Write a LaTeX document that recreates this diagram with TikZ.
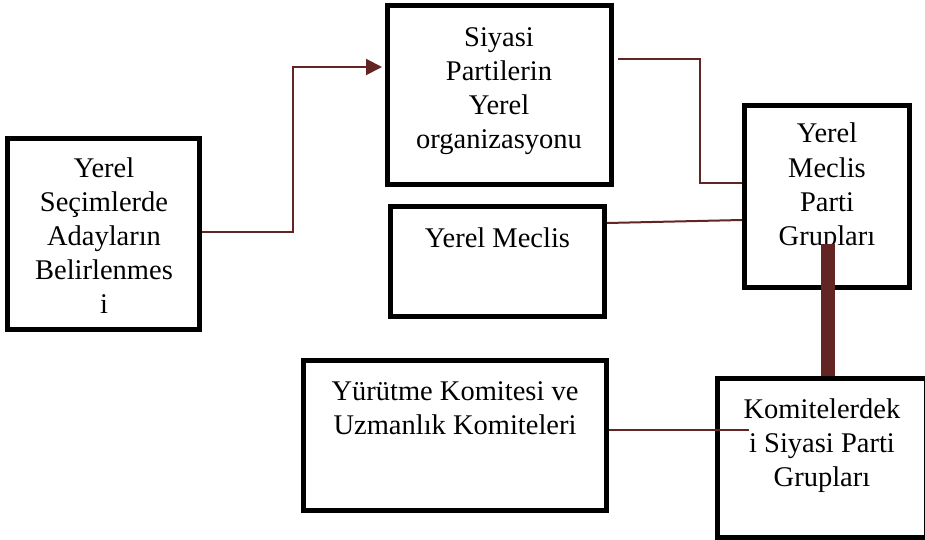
\documentclass[tikz,border=0pt]{standalone}
\usepackage{fontspec}
\setmainfont{Liberation Serif}
\usetikzlibrary{arrows.meta}
\definecolor{connred}{RGB}{99,37,35}
\begin{document}
\begin{tikzpicture}[x=1pt,y=-1pt,
  box/.style={draw=black,line width=5pt,rectangle,inner sep=0pt},
  lbl/.style={anchor=base,inner sep=0pt,font=\fontsize{28.5}{34}\selectfont},
  thinconn/.style={draw=connred,line width=2pt},
  thickconn/.style={draw=connred,line width=13.5pt},
]
\useasboundingbox (0,0) rectangle (925,540);
% boxes
\node[box,minimum width=192pt,minimum height=191pt] (A) at (103.5,234) {};
\node[box,minimum width=224pt,minimum height=179pt] (B) at (499.5,95) {};
\node[box,minimum width=214pt,minimum height=110pt] (C) at (497.5,261.5) {};
\node[box,minimum width=165pt,minimum height=182pt] (D) at (827,196.5) {};
\node[box,minimum width=303pt,minimum height=150pt] (E) at (455,435.5) {};
\node[box,minimum width=209pt,minimum height=159pt] (F) at (822,458) {};
% texts
\node[lbl] (tA) at (104,177) {\begin{tabular}[t]{@{}c@{}}Yerel\\Seçimlerde\\Adayların\\Belirlenmes\\i\end{tabular}};
\node[lbl] (tB) at (499,47) {\begin{tabular}[t]{@{}c@{}}Siyasi\\Partilerin\\Yerel\\organizasyonu\end{tabular}};
\node[lbl] (tC) at (497.5,247) {Yerel Meclis};
\node[lbl] (tD) at (827,143) {\begin{tabular}[t]{@{}c@{}}Yerel\\Meclis\\Parti\\Grupları\end{tabular}};
\node[lbl] (tE) at (455,400) {\begin{tabular}[t]{@{}c@{}}Yürütme Komitesi ve\\Uzmanlık Komiteleri\end{tabular}};
\node[lbl] (tF) at (822,418) {\begin{tabular}[t]{@{}c@{}}Komitelerdek\\i Siyasi Parti\\Grupları\end{tabular}};
% connectors
\draw[thinconn,-{Triangle[length=16pt,width=16pt]},shorten >=3pt]
  ([yshift=2pt]A.east) -- ++(91,0) |- ([yshift=28pt]B.west);
\draw[thinconn] ([xshift=4pt,yshift=36pt]B.east) -- ++(82,0) |- ([yshift=13.5pt]D.west);
\draw[thinconn] ([yshift=38.5pt]C.east) -- ([yshift=-23.5pt]D.west);
\draw[thinconn] ([yshift=5.5pt]E.east) -- ([xshift=34pt,yshift=28pt]F.west);
\draw[thickconn] ([xshift=1pt,yshift=-47.5pt]D.center) -- ([xshift=1pt]D.center |- F.north);
\end{tikzpicture}
\end{document}
